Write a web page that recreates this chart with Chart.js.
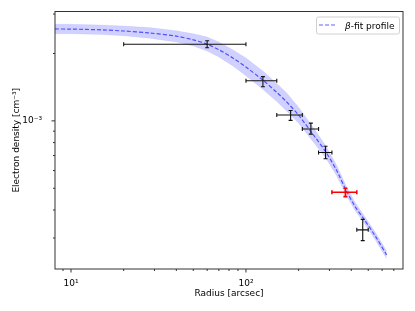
<!DOCTYPE html>
<html lang="en">
<head>
<meta charset="UTF-8">
<title>Electron density profile</title>
<script src="https://cdn.jsdelivr.net/npm/chart.js"></script>
<style>
  html, body { margin: 0; padding: 0; background: #fff; }
  #wrap { width: 415px; height: 311px; }
</style>
</head>
<body>
<div id="wrap"><canvas id="profileChart" width="415" height="311"></canvas></div>
<script>
// binned measurements (radius in arcsec, density in cm^-3)
const radius    = [60, 125, 180, 235, 285, 370, 465];
const radiusLo  = [20, 100, 150, 210, 260, 310, 430];
const radiusHi  = [100, 150, 210, 260, 310, 430, 500];
const density   = [2.20e-3, 1.51e-3, 1.063e-3, 9.2e-4, 7.22e-4, 4.8e-4, 3.26e-4];
const densityLo = [2.12e-3, 1.42e-3, 1.005e-3, 8.73e-4, 6.77e-4, 4.59e-4, 2.92e-4];
const densityHi = [2.28e-3, 1.577e-3, 1.112e-3, 9.77e-4, 7.7e-4, 5.0e-4, 3.63e-4];
const highlightIdx = 5; // the red bin

// beta-model fit and its band
const fitRadius  = [8.1, 10, 15, 20, 28, 40, 50, 60, 70, 85, 100, 125, 150, 170, 200, 250, 285, 330, 376, 420, 468, 550, 637];
const fitDensity = [2.574e-3, 2.57e-3, 2.55e-3, 2.52e-3, 2.47e-3, 2.39e-3, 2.30e-3, 2.20e-3, 2.08e-3, 1.90e-3, 1.74e-3, 1.52e-3, 1.34e-3, 1.22e-3, 1.06e-3, 8.4e-4, 7.3e-4, 6.0e-4, 4.85e-4, 4.15e-4, 3.68e-4, 3.05e-4, 2.52e-4];
const fitUpper   = [2.70e-3, 2.70e-3, 2.68e-3, 2.65e-3, 2.61e-3, 2.53e-3, 2.45e-3, 2.37e-3, 2.25e-3, 2.07e-3, 1.91e-3, 1.67e-3, 1.47e-3, 1.34e-3, 1.15e-3, 9.03e-4, 7.77e-4, 6.33e-4, 5.08e-4, 4.33e-4, 3.83e-4, 3.17e-4, 2.62e-4];
const fitLower   = [2.45e-3, 2.45e-3, 2.43e-3, 2.40e-3, 2.34e-3, 2.25e-3, 2.16e-3, 2.05e-3, 1.93e-3, 1.75e-3, 1.59e-3, 1.38e-3, 1.22e-3, 1.11e-3, 9.75e-4, 7.81e-4, 6.85e-4, 5.69e-4, 4.63e-4, 3.98e-4, 3.54e-4, 2.93e-4, 2.42e-4];

// axis ticks
const xMajor = [10, 100];
const xMajorLabels = ['10¹', '10²'];
const xMinor = [9, 20, 30, 40, 50, 60, 70, 80, 90, 200, 300, 400, 500, 600, 700];
const yMajor = [1e-3];
const yMajorLabels = ['10⁻³'];
const yMinor = [3e-4, 4e-4, 5e-4, 6e-4, 7e-4, 8e-4, 9e-4, 2e-3, 3e-3];

const FONT = 'DejaVu Sans';
Chart.defaults.font.family = FONT;
Chart.defaults.font.size = 9;
Chart.defaults.color = '#000';

const lineBlue = 'rgba(0, 0, 255, 0.62)';
const bandBlue = 'rgba(0, 0, 255, 0.18)';

function pts(xs, ys) {
  return xs.map((v, i) => ({ x: v, y: ys[i] }));
}

// error bars, frame, tick marks and legend
const decorations = {
  id: 'decorations',
  afterDatasetsDraw(chart) {
    const { ctx, chartArea: a, scales: { x, y } } = chart;
    ctx.save();

    const cap = 2;
    for (let i = 0; i < radius.length; i++) {
      const px = x.getPixelForValue(radius[i]);
      const py = y.getPixelForValue(density[i]);
      const x0 = x.getPixelForValue(radiusLo[i]);
      const x1 = x.getPixelForValue(radiusHi[i]);
      const y0 = y.getPixelForValue(densityLo[i]);
      const y1 = y.getPixelForValue(densityHi[i]);
      ctx.strokeStyle = i === highlightIdx ? '#ff0000' : '#111';
      ctx.lineWidth = i === highlightIdx ? 1.6 : 1.1;
      ctx.beginPath();
      ctx.moveTo(x0, py); ctx.lineTo(x1, py);
      ctx.moveTo(px, y0); ctx.lineTo(px, y1);
      ctx.moveTo(x0, py - cap); ctx.lineTo(x0, py + cap);
      ctx.moveTo(x1, py - cap); ctx.lineTo(x1, py + cap);
      ctx.moveTo(px - cap, y0); ctx.lineTo(px + cap, y0);
      ctx.moveTo(px - cap, y1); ctx.lineTo(px + cap, y1);
      ctx.stroke();
    }

    // frame
    ctx.strokeStyle = '#333';
    ctx.lineWidth = 1;
    ctx.strokeRect(a.left, a.top, a.right - a.left, a.bottom - a.top);

    // ticks, pointing out
    ctx.beginPath();
    const tickX = (vals, len) => vals.forEach(v => {
      const p = x.getPixelForValue(v);
      ctx.moveTo(p, a.bottom); ctx.lineTo(p, a.bottom + len);
    });
    const tickY = (vals, len) => vals.forEach(v => {
      const p = y.getPixelForValue(v);
      ctx.moveTo(a.left, p); ctx.lineTo(a.left - len, p);
    });
    tickX(xMajor, 3.5); tickX(xMinor, 2);
    tickY(yMajor, 3.5); tickY(yMinor, 2);
    ctx.stroke();

    // legend
    const lx = 316, ly = 16.5, lw = 83, lh = 17;
    ctx.fillStyle = 'rgba(255,255,255,0.8)';
    ctx.strokeStyle = '#d0d0d0';
    ctx.lineWidth = 1;
    ctx.beginPath();
    ctx.roundRect(lx + 0.5, ly + 0.5, lw, lh, 2);
    ctx.fill();
    ctx.stroke();

    ctx.strokeStyle = lineBlue;
    ctx.lineWidth = 1.2;
    ctx.setLineDash([4, 2]);
    ctx.beginPath();
    ctx.moveTo(319, 25); ctx.lineTo(335, 25);
    ctx.stroke();
    ctx.setLineDash([]);

    ctx.fillStyle = '#000';
    ctx.textBaseline = 'alphabetic';
    ctx.font = 'italic 9px "' + FONT + '"';
    ctx.fillText('β', 345, 28.5);
    const bw = ctx.measureText('β').width;
    ctx.font = '9px "' + FONT + '"';
    ctx.fillText('-fit profile', 345 + bw, 28.5);

    ctx.restore();
  }
};

const chart = new Chart(document.getElementById('profileChart').getContext('2d'), {
  type: 'scatter',
  data: {
    datasets: [
      {
        label: 'band lower',
        data: pts(fitRadius, fitLower),
        showLine: true,
        pointRadius: 0,
        borderWidth: 0.6,
        borderColor: 'rgba(0, 0, 255, 0.1)',
        fill: false
      },
      {
        label: 'band upper',
        data: pts(fitRadius, fitUpper),
        showLine: true,
        pointRadius: 0,
        borderWidth: 0.6,
        borderColor: 'rgba(0, 0, 255, 0.1)',
        backgroundColor: bandBlue,
        fill: '-1'
      },
      {
        label: 'β-fit profile',
        data: pts(fitRadius, fitDensity),
        showLine: true,
        pointRadius: 0,
        borderColor: lineBlue,
        borderWidth: 1.2,
        borderDash: [4, 2],
        tension: 0.3,
        fill: false
      },
      {
        label: 'data',
        data: pts(radius, density),
        pointRadius: 0
      }
    ]
  },
  options: {
    responsive: false,
    animation: false,
    events: [],
    layout: { padding: { top: 11.5, right: 12, left: 0, bottom: 0 } },
    plugins: {
      legend: { display: false },
      tooltip: { enabled: false }
    },
    scales: {
      x: {
        type: 'logarithmic',
        min: 8.1,
        max: 790,
        afterBuildTicks: s => { s.ticks = xMajor.map(v => ({ value: v })); },
        afterFit: s => { s.height = 42; },
        grid: { display: false },
        border: { display: false },
        ticks: {
          autoSkip: false,
          maxRotation: 0,
          padding: 1,
          callback: v => xMajorLabels[xMajor.indexOf(v)] ?? ''
        },
        title: {
          display: true,
          text: 'Radius [arcsec]',
          padding: { top: 0, bottom: 11.6 }
        }
      },
      y: {
        type: 'logarithmic',
        min: 2.18e-4,
        max: 3.08e-3,
        afterBuildTicks: s => { s.ticks = yMajor.map(v => ({ value: v })); },
        afterFit: s => { s.width = 55; },
        grid: { display: false },
        border: { display: false },
        ticks: {
          autoSkip: false,
          padding: 5,
          callback: v => yMajorLabels[yMajor.indexOf(v)] ?? ''
        },
        title: {
          display: true,
          text: 'Electron density [cm⁻³]',
          padding: { top: 11.6, bottom: 0 }
        }
      }
    }
  },
  plugins: [decorations]
});
</script>
</body>
</html>
